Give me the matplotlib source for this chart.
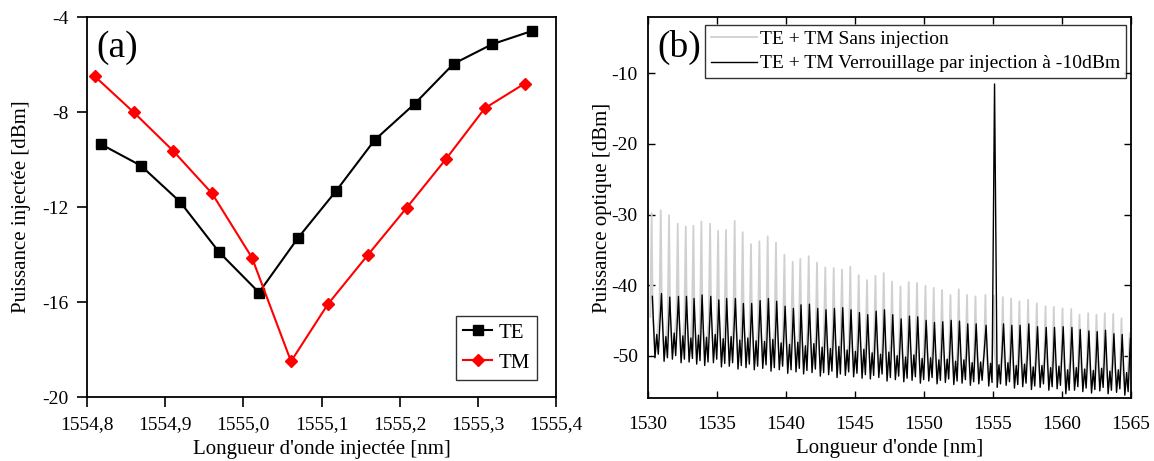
import matplotlib
matplotlib.use("Agg")
import matplotlib.pyplot as plt

plt.rcParams['font.family'] = ['Liberation Serif', 'DejaVu Serif']

# ---- panel (a): injected power vs injected wavelength
te_nm = [1554.818, 1554.869, 1554.919, 1554.969, 1555.020, 1555.070,
         1555.119, 1555.168, 1555.219, 1555.269, 1555.318, 1555.369]
te_dbm = [-9.36, -10.26, -11.78, -13.90, -15.60, -13.30,
          -11.31, -9.18, -7.66, -5.97, -5.15, -4.59]
tm_nm = [1554.810, 1554.860, 1554.910, 1554.960, 1555.011, 1555.061,
         1555.108, 1555.159, 1555.209, 1555.259, 1555.309, 1555.360]
tm_dbm = [-6.50, -8.02, -9.63, -11.43, -14.13, -18.50,
          -16.10, -14.03, -12.03, -9.99, -7.84, -6.80]
a_xticks = [1554.8, 1554.9, 1555.0, 1555.1, 1555.2, 1555.3, 1555.4]
a_xlabels = ["1554,8", "1554,9", "1555,0", "1555,1", "1555,2", "1555,3", "1555,4"]
a_yticks = [-20, -16, -12, -8, -4]

# ---- panel (b): optical spectrum, one entry per longitudinal mode
mode_nm = [1530.30, 1530.96, 1531.56, 1532.19, 1532.77, 1533.32, 1533.90, 1534.53,
           1535.11, 1535.68, 1536.31, 1536.89, 1537.49, 1538.10, 1538.70, 1539.30,
           1539.91, 1540.51, 1541.06, 1541.67, 1542.27, 1542.87, 1543.48, 1544.08,
           1544.68, 1545.29, 1545.89, 1546.50, 1547.10, 1547.70, 1548.31, 1548.91,
           1549.51, 1550.12, 1550.72, 1551.32, 1551.93, 1552.53, 1553.13, 1553.74,
           1554.46, 1555.07, 1555.72, 1556.32, 1556.92, 1557.55, 1558.18, 1558.81,
           1559.41, 1560.04, 1560.67, 1561.27, 1561.90, 1562.50, 1563.10, 1563.71,
           1564.31, 1564.91]
free_peak_db = [-29.8, -29.4, -30.1, -31.3, -31.7, -31.6, -31.0, -31.3, -32.3, -32.2,
                -30.9, -32.5, -34.2, -33.8, -33.1, -34.0, -35.7, -36.7, -36.3, -35.9,
                -36.8, -37.5, -37.6, -37.8, -37.4, -38.6, -39.3, -38.7, -38.3, -39.5,
                -40.2, -39.6, -39.7, -40.1, -40.4, -40.7, -41.4, -40.6, -41.4, -41.6,
                -41.4, -41.5, -41.7, -41.9, -42.3, -42.1, -42.6, -43.0, -43.1, -43.3,
                -43.4, -44.2, -44.0, -44.2, -44.0, -44.1, -44.7, -46.8]
free_base_db = [-44.5, -44.0, -44.8, -44.6, -45.0, -44.9, -45.3, -45.1, -45.5, -45.4,
                -45.8, -45.6, -46.0, -45.9, -46.3, -46.1, -46.6, -46.4, -46.9, -46.7,
                -47.2, -47.0, -47.5, -47.3, -47.8, -47.6, -48.0, -47.9, -48.3, -48.1,
                -48.6, -48.4, -48.9, -48.7, -49.2, -49.0, -49.4, -49.3, -49.7, -49.5,
                -49.9, -49.8, -50.1, -50.0, -50.3, -50.2, -50.5, -50.4, -50.7, -50.6,
                -50.9, -50.8, -51.1, -51.0, -51.3, -51.2, -51.5, -51.4]
lock_peak_db = [-41.6, -41.2, -41.7, -41.6, -41.6, -41.9, -41.4, -41.6, -42.1, -41.9,
                -41.9, -42.6, -42.6, -42.2, -41.9, -42.3, -43.0, -43.3, -42.8, -42.7,
                -43.3, -43.5, -43.3, -43.2, -43.5, -43.9, -44.2, -43.7, -43.5, -44.2,
                -44.8, -44.4, -44.5, -45.0, -45.3, -45.2, -45.0, -45.1, -45.5, -45.5,
                -45.7, -11.5, -45.5, -45.7, -45.7, -45.5, -45.9, -46.0, -46.0, -45.9,
                -46.0, -46.3, -46.5, -46.6, -46.4, -46.9, -47.0, -47.5]
lock_dip_db = [-50.3, -50.8, -50.5, -51.0, -50.9, -51.2, -51.4, -51.0, -51.6, -51.5,
               -51.9, -51.7, -52.0, -51.8, -52.2, -52.0, -52.5, -52.3, -52.6, -52.4,
               -52.9, -52.7, -53.1, -52.8, -53.0, -53.2, -53.3, -53.1, -53.6, -53.4,
               -53.7, -53.5, -53.9, -53.6, -54.0, -53.8, -54.1, -53.9, -54.2, -54.0,
               -54.3, -54.5, -54.2, -54.6, -54.4, -54.8, -54.5, -54.9, -54.7, -55.4,
               -54.9, -55.1, -55.3, -55.0, -55.4, -55.2, -55.6, -55.3]
lock_hump_db = [-47.0, -47.3, -46.8, -47.2, -47.5, -47.1, -47.4, -47.0, -47.6, -47.3,
                -47.8, -47.5, -47.9, -48.0, -47.7, -48.2, -48.4, -48.1, -48.6, -48.3,
                -48.8, -49.0, -48.7, -49.2, -49.4, -49.1, -49.6, -49.8, -49.5, -50.0,
                -50.2, -49.9, -50.4, -50.3, -50.6, -50.5, -50.8, -50.6, -51.0, -50.9,
                -51.1, -51.3, -51.0, -51.4, -51.2, -51.6, -51.4, -51.7, -51.5, -52.0,
                -51.7, -51.9, -52.1, -51.8, -52.2, -52.0, -52.4, -52.1]
b_xticks = [1530, 1535, 1540, 1545, 1550, 1555, 1560, 1565]
b_yticks = [-50, -40, -30, -20, -10]

# line shapes of each mode (offsets in nm, drawing only)
g_rise, g_fall, g_tail = 0.10, 0.08, 0.27
k_pk, k_dip, k_hump, k_dip2 = 0.05, 0.24, 0.37, 0.48

free_x, free_y = [], []
lock_x, lock_y = [], []
for i, lam in enumerate(mode_nm):
    free_x += [lam - g_rise, lam, lam + g_fall, lam + g_tail]
    free_y += [free_base_db[i], free_peak_db[i], free_base_db[i], lock_dip_db[i] + 0.8]
    lock_x += [lam + k_pk, lam + k_dip, lam + k_hump, lam + k_dip2]
    lock_y += [lock_peak_db[i], lock_dip_db[i], lock_hump_db[i], lock_dip_db[i] + 0.5]

fig = plt.figure(figsize=(11.54, 4.61), dpi=100)

# ---------------- (a)
ax1 = fig.add_axes([0.0754, 0.1388, 0.4064, 0.8243])
ax1.plot(te_nm, te_dbm, color='black', marker='s', markersize=6.5, lw=1.5, label='TE')
ax1.plot(tm_nm, tm_dbm, color='red', marker='D', markersize=6.5, lw=1.5, label='TM')
ax1.set_xlim(1554.8, 1555.4)
ax1.set_ylim(-20, -4)
ax1.set_xticks(a_xticks)
ax1.set_xticklabels(a_xlabels)
ax1.set_yticks(a_yticks)
ax1.set_yticklabels([str(v) for v in a_yticks])
ax1.tick_params(direction='out', length=7, width=1.2, labelsize=14, pad=7)
ax1.tick_params(axis='y', pad=6)
for s in ax1.spines.values():
    s.set_linewidth(1.3)
ax1.set_xlabel("Longueur d'onde injectée [nm]", fontsize=15, labelpad=5)
ax1.set_ylabel("Puissance injectée [dBm]", fontsize=15, labelpad=8)
ax1.text(0.02, 0.965, "(a)", transform=ax1.transAxes, fontsize=27, va='top', ha='left')
leg1 = ax1.legend(loc='lower right', fontsize=15, frameon=True, fancybox=False,
                  edgecolor='black', handlelength=1.4, handletextpad=0.3,
                  borderpad=0.35, borderaxespad=0, bbox_to_anchor=(0.96, 0.045))
leg1.get_frame().set_linewidth(1.0)

# ---------------- (b)
ax2 = fig.add_axes([0.5611, 0.1367, 0.419, 0.8265])
ax2.plot(free_x, free_y, color='#d0d0d0', lw=1.3, label='TE + TM Sans injection')
ax2.plot(lock_x, lock_y, color='black', lw=1.0,
         label='TE + TM Verrouillage par injection à -10dBm')
ax2.set_xlim(1530, 1565)
ax2.set_ylim(-56, -2)
ax2.set_xticks(b_xticks)
ax2.set_yticks(b_yticks)
ax2.set_yticklabels([str(v) for v in b_yticks])
ax2.tick_params(direction='in', length=5, width=1.0, labelsize=14, pad=13,
                top=True, right=True)
ax2.tick_params(axis='y', pad=7)
for s in ax2.spines.values():
    s.set_linewidth(1.3)
ax2.set_xlabel("Longueur d'onde [nm]", fontsize=15, labelpad=4)
ax2.set_ylabel("Puissance optique [dBm]", fontsize=15, labelpad=0)
ax2.text(0.02, 0.965, "(b)", transform=ax2.transAxes, fontsize=27, va='top', ha='left')
leg2 = ax2.legend(loc='upper right', fontsize=14, frameon=True, fancybox=False,
                  edgecolor='black', handlelength=2.4, handletextpad=0.15,
                  borderpad=0.3, labelspacing=0.35, borderaxespad=0,
                  bbox_to_anchor=(0.99, 0.98))
leg2.get_frame().set_linewidth(1.0)

plt.savefig("out.png", dpi=100)
